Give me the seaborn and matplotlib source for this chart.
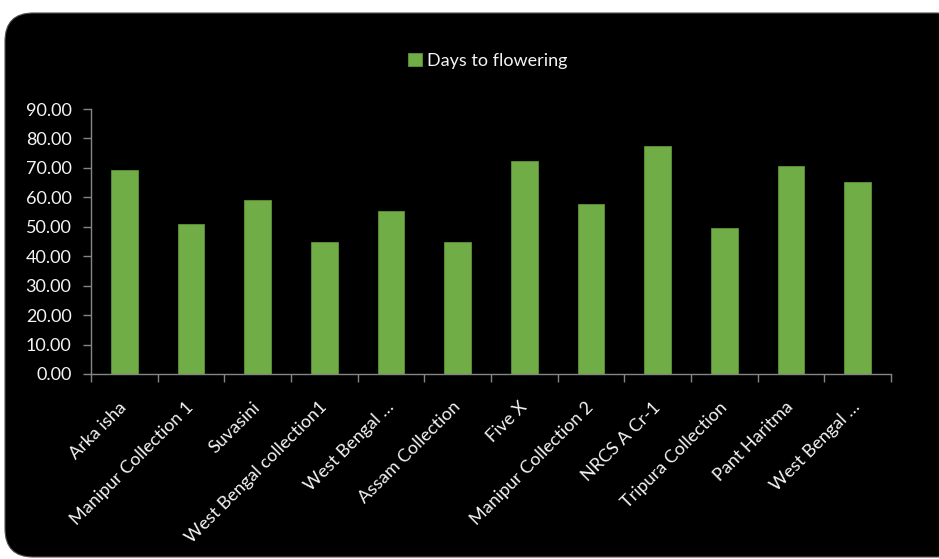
import matplotlib
matplotlib.use("Agg")
import matplotlib.pyplot as plt
import seaborn as sns
import numpy as np
import pandas as pd
from matplotlib.patches import FancyBboxPatch
from matplotlib.ticker import FixedLocator, FormatStrFormatter

categories = ["Arka isha", "Manipur Collection 1", "Suvasini", "West Bengal collection1",
              "West Bengal …", "Assam Collection", "Five X", "Manipur Collection 2",
              "NRCS A Cr-1", "Tripura Collection", "Pant Haritma", "West Bengal …"]
values = [69.3, 50.9, 59.0, 45.0, 55.4, 45.0, 72.2, 57.7, 77.4, 49.6, 70.6, 65.3]
series_name = "Days to flowering"

sns.set_theme(style="white")
plt.rcParams['font.family'] = ['Lato', 'DejaVu Sans']

FS = 13
TXT = "#f4f4f4"

fig = plt.figure(figsize=(9.39, 5.59), dpi=100)
fig.patch.set_facecolor("white")
bg = FancyBboxPatch((5/939, 2/559), 960/939, 544/559,
                    boxstyle="round,pad=0,rounding_size=0.03",
                    transform=fig.transFigure, facecolor="black", edgecolor="#505050",
                    linewidth=0.8, zorder=-10, mutation_aspect=939/559)
fig.patches.append(bg)

ax = fig.add_axes([91/939, 1 - 374/559, 800/939, (374 - 109)/559])
ax.set_facecolor("none")

df = pd.DataFrame({"cat": range(len(categories)), "val": values, "series": series_name})
sns.barplot(data=df, x="cat", y="val", hue="series", palette=["#70AD47"], width=0.4,
            edgecolor="#5E9438", linewidth=0.6, ax=ax, saturation=1)

ax.set_xlim(-0.5, len(categories) - 0.5)
ax.set_ylim(0, 90)
ax.yaxis.set_major_locator(FixedLocator(np.arange(0, 91, 10)))
ax.yaxis.set_major_formatter(FormatStrFormatter("%.2f"))
ax.set_xticks(range(len(categories)))
ax.set_xticklabels(categories, rotation=45, ha="right", va="center", rotation_mode="anchor")
ax.set_xticks(np.arange(-0.5, len(categories), 1.0), minor=True)
ax.tick_params(axis="x", which="major", length=0, pad=22, labelsize=FS, labelcolor=TXT)
ax.tick_params(axis="x", which="minor", length=6, width=1, color="#868686", direction="out", bottom=True)
ax.tick_params(axis="y", length=6, width=1, color="#868686", direction="out", left=True,
               labelsize=FS, labelcolor=TXT, pad=8)
ax.set_xlabel("")
ax.set_ylabel("")
for s in ["top", "right"]:
    ax.spines[s].set_visible(False)
for s in ["left", "bottom"]:
    ax.spines[s].set_color("#868686")
    ax.spines[s].set_linewidth(1)
ax.grid(False)

leg = ax.legend(loc="center", bbox_to_anchor=(488/939, 1 - 61/559), bbox_transform=fig.transFigure,
                frameon=False, fontsize=FS, handlelength=0.75, handleheight=0.75, handletextpad=0.3,
                labelcolor=TXT)

fig.savefig("out.png", dpi=100, facecolor="white")
